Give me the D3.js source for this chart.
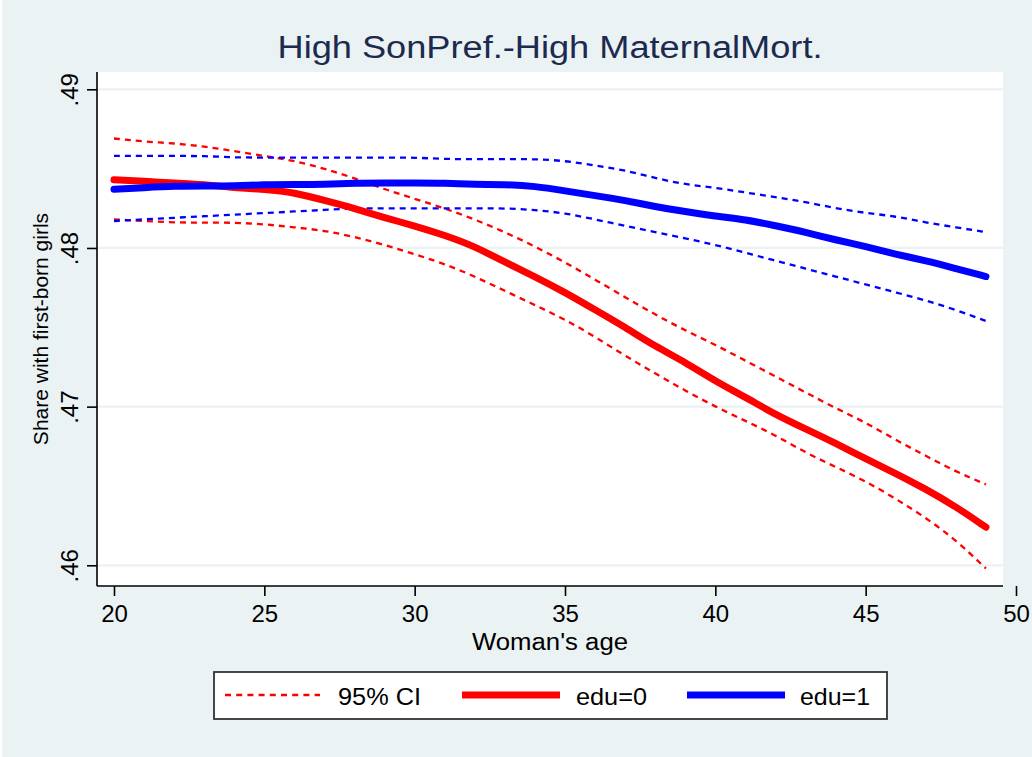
<!DOCTYPE html>
<html><head><meta charset="utf-8">
<script src="https://cdn.jsdelivr.net/npm/d3@7"></script>
<style>
body{margin:0;background:#EAF2F3;}
svg{display:block;}
text{font-family:"Liberation Sans",Arial,Helvetica,sans-serif;}
</style>
</head><body>
<svg id="c" width="1032" height="757"></svg>
<script>
const titleText = "High SonPref.-High MaternalMort.";
const xTitle = "Woman's age";
const yTitle = "Share with first-born girls";
const xTicks = [20,25,30,35,40,45,50];
const yTicks = [0.46,0.47,0.48,0.49];
const yTickLabels = [".46",".47",".48",".49"];
const legendLabels = ["95% CI","edu=0","edu=1"];

const ages = d3.range(20,50);
const edu0 = [.4843,.4842,.4841,.4840,.4838,.4837,.4835,.4830,.4825,.4819,.4814,.4808,.4801,.4791,.4782,.4772,.4761,.4750,.4738,.4728,.4716,.4706,.4695,.4686,.4677,.4667,.4658,.4648,.4637,.4624];
const edu0Hi = [.4869,.4867,.4866,.4864,.4861,.4858,.4855,.4850,.4844,.4837,.4831,.4825,.4818,.4810,.4801,.4791,.4780,.4769,.4758,.4748,.4739,.4729,.4719,.4709,.4699,.4690,.4679,.4669,.4659,.4651];
const edu0Lo = [.4818,.4817,.4816,.4816,.4816,.4815,.4813,.4811,.4807,.4802,.4796,.4790,.4782,.4773,.4764,.4755,.4744,.4732,.4721,.4710,.4700,.4691,.4682,.4671,.4662,.4653,.4642,.4630,.4616,.4598];
const edu1 = [.4837,.4838,.4839,.4839,.4839,.4840,.4840,.4840,.4841,.4841,.4841,.4841,.4840,.4840,.4839,.4836,.4833,.4830,.4826,.4823,.4820,.4818,.4814,.4810,.4805,.4801,.4796,.4792,.4787,.4782];
const edu1Hi = [.4858,.4858,.4858,.4858,.4857,.4857,.4857,.4857,.4857,.4857,.4857,.4856,.4856,.4856,.4856,.4855,.4852,.4849,.4844,.4840,.4838,.4835,.4832,.4829,.4825,.4822,.4820,.4816,.4813,.4810];
const edu1Lo = [.4817,.4818,.4819,.4820,.4821,.4822,.4823,.4824,.4825,.4825,.4825,.4825,.4825,.4825,.4824,.4822,.4818,.4814,.4810,.4806,.4802,.4797,.4792,.4787,.4782,.4777,.4772,.4767,.4761,.4754];

const RED = "#ff0000", BLUE = "#0000ff";
const svg = d3.select("#c");
svg.append("rect").attr("x",0).attr("y",0).attr("width",2).attr("height",757).attr("fill","#ffffff");

const plot = {l:97, r:1003, t:72, b:586};
const x = d3.scaleLinear().domain([20,50]).range([114,1016]);
const y = d3.scaleLinear().domain([0.46,0.49]).range([565.3,89.3]);

svg.append("rect").attr("x",plot.l).attr("y",plot.t).attr("width",plot.r-plot.l).attr("height",plot.b-plot.t).attr("fill","#ffffff");

svg.append("g").selectAll("line").data(yTicks).join("line")
  .attr("x1",plot.l).attr("x2",plot.r).attr("y1",d=>y(d)).attr("y2",d=>y(d))
  .attr("stroke","#EAF2F3").attr("stroke-width",2.2);

const line = d3.line().x((d,i)=>x(ages[i])).y(d=>y(d)).curve(d3.curveBasis);
const series = [
  {v:edu0Hi,c:RED,w:2.3,dash:"6,5"},
  {v:edu0Lo,c:RED,w:2.3,dash:"6,5"},
  {v:edu1Hi,c:BLUE,w:2.3,dash:"6,5"},
  {v:edu1Lo,c:BLUE,w:2.3,dash:"6,5"},
  {v:edu0,c:RED,w:7,dash:null},
  {v:edu1,c:BLUE,w:7,dash:null}
];
svg.append("g").selectAll("path").data(series).join("path")
  .attr("d",d=>line(d.v)).attr("fill","none").attr("stroke",d=>d.c)
  .attr("stroke-width",d=>d.w).attr("stroke-dasharray",d=>d.dash)
  .attr("stroke-linecap",d=>d.dash?"butt":"round").attr("stroke-linejoin","round");

const xAxis = d3.axisBottom(x).tickValues(xTicks).tickSize(10).tickPadding(9).tickFormat(d3.format("d"));
const gx = svg.append("g").attr("transform",`translate(0,${plot.b})`).call(xAxis);
gx.select(".domain").remove();
gx.selectAll(".tick line").attr("stroke","#000").attr("stroke-width",1.6);
gx.selectAll(".tick text").attr("font-size",24).attr("fill","#000").attr("font-family",'"Liberation Sans",Arial,sans-serif');
svg.append("line").attr("x1",plot.l).attr("x2",plot.r).attr("y1",plot.b).attr("y2",plot.b).attr("stroke","#000").attr("stroke-width",1.6);

const yAxis = d3.axisLeft(y).tickValues(yTicks).tickSize(10).tickFormat((d,i)=>yTickLabels[i]);
const gy = svg.append("g").attr("transform",`translate(${plot.l},0)`).call(yAxis);
gy.select(".domain").remove();
gy.selectAll(".tick line").attr("stroke","#000").attr("stroke-width",1.6);
gy.selectAll(".tick text").attr("font-size",24).attr("fill","#000").attr("font-family",'"Liberation Sans",Arial,sans-serif')
  .attr("x",null).attr("dy",null).attr("text-anchor","middle")
  .attr("transform","translate(-19,0) rotate(-90)");
svg.append("line").attr("x1",plot.l).attr("x2",plot.l).attr("y1",plot.t).attr("y2",plot.b).attr("stroke","#000").attr("stroke-width",1.6);

svg.append("text").attr("x",550).attr("y",58).attr("text-anchor","middle")
  .attr("font-size",31).attr("fill","#1c2a50").attr("textLength",545).attr("lengthAdjust","spacingAndGlyphs").text(titleText);
svg.append("text").attr("x",550).attr("y",650).attr("text-anchor","middle")
  .attr("font-size",23.5).attr("fill","#000").attr("textLength",156).attr("lengthAdjust","spacingAndGlyphs").text(xTitle);
svg.append("text").attr("transform",`translate(48,${(plot.t+plot.b)/2}) rotate(-90)`).attr("text-anchor","middle")
  .attr("font-size",21).attr("fill","#000").text(yTitle);

const lg = svg.append("g");
lg.append("rect").attr("x",214).attr("y",672).attr("width",673).attr("height",47)
  .attr("fill","#fff").attr("stroke","#333").attr("stroke-width",1.8);
const items = [
  {x1:225,x2:320,tx:338,tw:83,c:RED,w:2.3,dash:"6,5.2",lab:legendLabels[0]},
  {x1:462,x2:560,tx:576,tw:71,c:RED,w:7,dash:null,lab:legendLabels[1]},
  {x1:687,x2:785,tx:800,tw:70,c:BLUE,w:7,dash:null,lab:legendLabels[2]}
];
lg.selectAll("line").data(items).join("line")
  .attr("x1",d=>d.x1).attr("x2",d=>d.x2).attr("y1",695).attr("y2",695)
  .attr("stroke",d=>d.c).attr("stroke-width",d=>d.w).attr("stroke-dasharray",d=>d.dash);
lg.selectAll("text").data(items).join("text")
  .attr("x",d=>d.tx).attr("y",705).attr("font-size",24).attr("fill","#000")
  .attr("textLength",d=>d.tw).attr("lengthAdjust","spacingAndGlyphs").text(d=>d.lab);
</script>
</body></html>
